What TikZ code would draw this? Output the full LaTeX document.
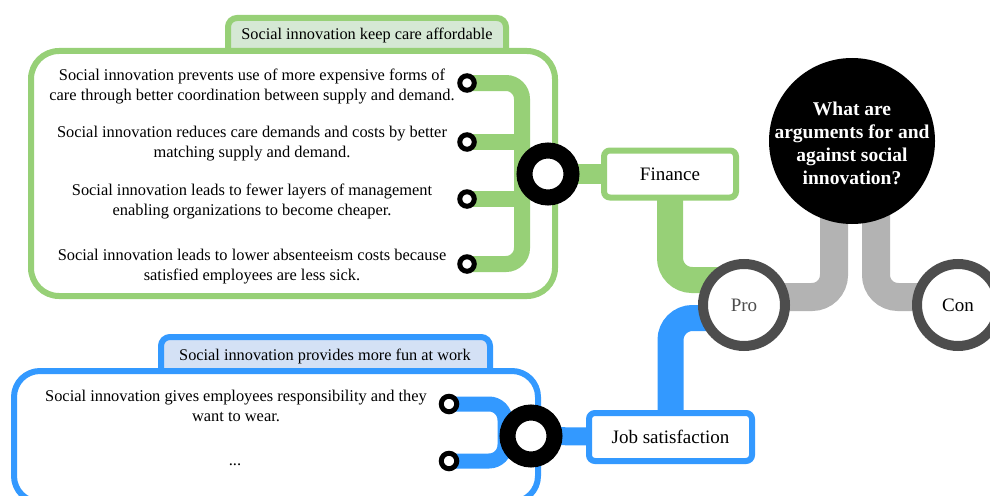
\documentclass[tikz,border=0pt]{standalone}
\usepackage{fontspec}
\setmainfont{Liberation Serif}
\usetikzlibrary{calc}
\definecolor{gline}{HTML}{97D077}
\definecolor{gtab}{HTML}{D5E8D4}
\definecolor{bline}{HTML}{3399FF}
\definecolor{btab}{HTML}{D4E1F5}
\definecolor{grayline}{HTML}{B3B3B3}
\definecolor{darkring}{HTML}{4D4D4D}
\begin{document}
\begin{tikzpicture}[x=1pt,y=-1pt,
  itemtext/.style={align=center, font=\fontsize{16.4}{20}\selectfont, inner sep=0pt},
  tabtext/.style={font=\fontsize{16.3}{19}\selectfont, inner sep=0pt},
  sring/.style={circle, draw=black, line width=5pt, fill=white, minimum size=14.5pt, inner sep=0pt},
  bigring/.style={circle, draw=black, line width=16pt, fill=white, minimum size=47pt, inner sep=0pt},
  pcirc/.style={circle, draw=darkring, line width=10pt, fill=white, minimum size=82pt, inner sep=0pt, font=\fontsize{19}{22}\selectfont},
  maincirc/.style={circle, fill=black, minimum size=166pt, inner sep=0pt},
  maintext/.style={align=center, text=white, font=\fontsize{19.5}{23}\selectfont\bfseries, inner sep=0pt},
  topicbox/.style={rectangle, rounded corners=6pt, line width=6pt, fill=white, inner sep=0pt, font=\fontsize{19}{22}\selectfont},
  gbus/.style={draw=gline, line width=16pt, rounded corners=16pt},
  bbus/.style={draw=bline, line width=15pt, rounded corners=16pt},
  thick connector/.style={line width=#1, rounded corners=22pt},
]
\useasboundingbox (0,0) rectangle (990,495);
\clip (0,0) rectangle (990,495);

% ---------- green group frame ----------
\filldraw[draw=gline, fill=gtab, line width=6pt, rounded corners=9pt]
  (228,51) -- (228,18) -- (506,18) -- (506,51);
\draw[draw=gline, line width=6pt, fill=white, rounded corners=28pt]
  (31,51) rectangle (555,296);
\node[tabtext] (gtabt) at (367,35.5) {Social innovation keep care affordable};

% ---------- blue group frame ----------
\filldraw[draw=bline, fill=btab, line width=6pt, rounded corners=9pt]
  (161,371) -- (161,337) -- (490,337) -- (490,371);
\draw[draw=bline, line width=6pt, fill=white, rounded corners=26pt]
  (14,371) rectangle (538,502);
\node[tabtext] (btabt) at (325,356) {Social innovation provides more fun at work};

% ---------- coordinates for bus columns ----------
\coordinate (gcol) at (522,0);
\coordinate (bcol) at (505,0);

% ---------- text nodes ----------
\node[itemtext] (g1) at (252,86) {Social innovation prevents use of more expensive forms of\\care through better coordination between supply and demand.};
\node[itemtext] (g2) at (252,143.5) {Social innovation reduces care demands and costs by better\\matching supply and demand.};
\node[itemtext] (g3) at (252,201) {Social innovation leads to fewer layers of management\\enabling organizations to become cheaper.};
\node[itemtext] (g4) at (252,267) {Social innovation leads to lower absenteeism costs because\\satisfied employees are less sick.};
\node[itemtext] (b1) at (236,406) {Social innovation gives employees responsibility and they\\want to wear.};
\node[itemtext] (b2) at (235,465) {...};

% anchor points
\path (467,83) coordinate (gr1p) (467,142) coordinate (gr2p) (467,199) coordinate (gr3p) (467,264) coordinate (gr4p);
\path (548,174) coordinate (gringp) (670,174) coordinate (finp);
\path (744,305) coordinate (prop) (958,305) coordinate (conp) (852,141) coordinate (mainp);
\path (670.5,437) coordinate (jobp) (531,436) coordinate (bringp);
\path (449,404) coordinate (br1p) (449,461) coordinate (br2p);

% connectors (green)
\draw[gbus] (gr1p) -| (gcol |- gr4p) -- (gr4p);
\draw[gbus] (gr2p) -- (gcol |- gr2p);
\draw[gbus] (gr3p) -- (gcol |- gr3p);
\draw[draw=gline, line width=20pt] (gringp) -- (finp);
\draw[draw=gline, thick connector=26pt] (finp) |- ([yshift=25pt]prop);

% connectors (blue)
\draw[bbus] (br1p) -| (bcol |- br2p) -- (br2p);
\draw[draw=bline, line width=18pt] (bringp) -- (jobp);
\draw[draw=bline, thick connector=26pt] ([yshift=-13pt]prop) -| (jobp);

% connectors (gray)
\draw[draw=grayline, thick connector=28pt] ([xshift=-18pt]mainp) |- ([yshift=8pt]prop);
\draw[draw=grayline, thick connector=28pt] ([xshift=24pt]mainp) |- ([yshift=8pt]conp);

% ---------- nodes on top ----------
\node[sring] (gr1) at (gr1p) {};
\node[sring] (gr2) at (gr2p) {};
\node[sring] (gr3) at (gr3p) {};
\node[sring] (gr4) at (gr4p) {};
\node[bigring] (gring) at (gringp) {};
\node[topicbox, draw=gline, minimum width=132pt, minimum height=47pt] (fin) at (finp) {Finance};

\node[sring, minimum size=15.5pt] (br1) at (br1p) {};
\node[sring, minimum size=15.5pt] (br2) at (br2p) {};
\node[bigring] (bring) at (bringp) {};
\node[topicbox, draw=bline, minimum width=163pt, minimum height=48pt] (job) at (jobp) {Job satisfaction};

\node[pcirc, text=darkring] (pro) at (prop) {\raisebox{-1.5pt}{Pro}};
\node[pcirc, text=black] (con) at (conp) {\raisebox{-1pt}{Con}};
\node[maincirc] (main) at (mainp) {};
\node[maintext] (maint) at (852,143.5) {What are\\arguments for and\\against social\\innovation?};
\end{tikzpicture}
\end{document}
